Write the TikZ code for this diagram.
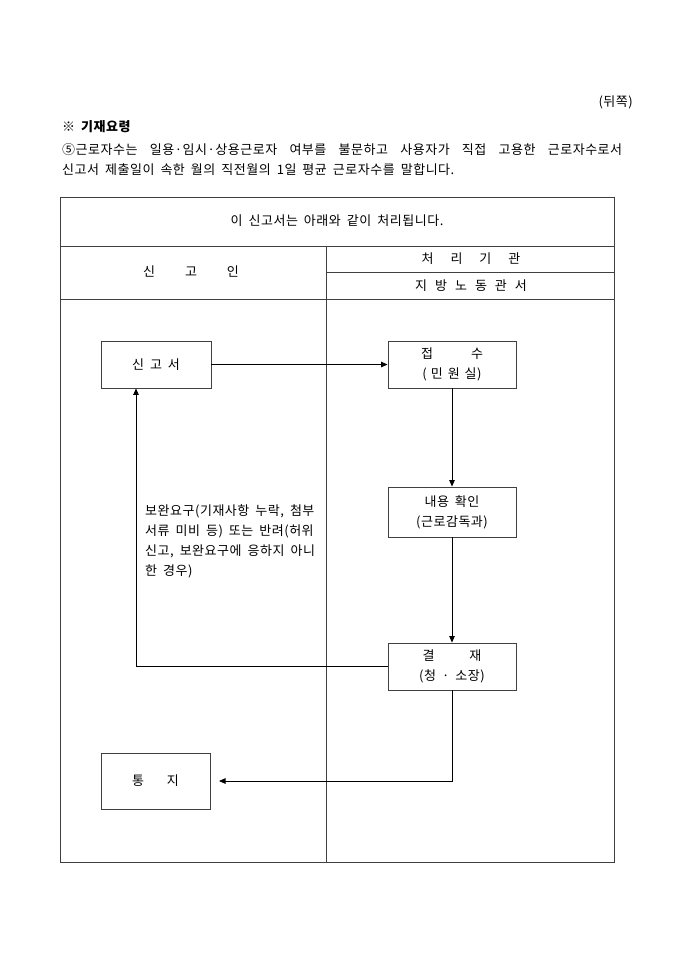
\documentclass[tikz,border=0pt]{standalone}
\usepackage{fontspec}
\setmainfont[LetterSpace=4]{Noto Sans CJK KR}
\usetikzlibrary{arrows.meta}
\definecolor{ln}{HTML}{404040}
\newcommand{\kfont}{\fontsize{13}{20}\selectfont\setlength{\spaceskip}{6pt plus 8pt}}
\newcommand{\lfont}{\fontsize{13}{20.3}\selectfont\setlength{\spaceskip}{6pt}}
\tikzset{
  box/.style={draw=ln, line width=0.9pt, font=\kfont, align=center, inner sep=0pt},
  frame/.style={draw=ln, line width=0.9pt},
  conn/.style={draw=black, line width=0.8pt},
  arr/.style={conn, -{Triangle[length=6.5pt,width=5.5pt]}},
  txt/.style={font=\kfont, inner sep=0pt},
}
\begin{document}
\begin{tikzpicture}[x=1pt,y=-1pt]
\useasboundingbox (0,0) rectangle (680,962);
% top texts
\node[txt, anchor=east] (back) at (633,102) {(뒤쪽)};
\node[txt, anchor=west, font=\kfont\bfseries] (head) at (62,127) {※ 기재요령};
\node[txt, anchor=west] (p1) at (62,150) {\makebox[560pt][s]{⑤근로자수는 일용·임시·상용근로자 여부를 불문하고 사용자가 직접 고용한 근로자수로서}};
\node[txt, anchor=west] (p2) at (62,170) {신고서 제출일이 속한 월의 직전월의 1일 평균 근로자수를 말합니다.};
% table frame
\draw[frame] (60,197) rectangle (614,862);
\draw[frame] (60,246) -- (614,246);
\draw[frame] (60,299) -- (614,299);
\draw[frame] (326,246) -- (326,862);
\draw[frame] (326,272) -- (614,272);
\node[txt] (title) at (337,221) {이 신고서는 아래와 같이 처리됩니다.};
\node[txt] (apl) at (191,272) {신\hspace{30pt}고\hspace{30pt}인};
\node[txt] (org) at (471,259) {처\hspace{17pt}리\hspace{17pt}기\hspace{17pt}관};
\node[txt] (off) at (471,286) {지\hspace{8pt}방\hspace{8pt}노\hspace{8pt}동\hspace{8pt}관\hspace{8pt}서};
% boxes
\node[box, minimum width=110pt, minimum height=47pt] (sin) at (156,364.5) {신\hspace{6pt}고\hspace{6pt}서};
\node[box, minimum width=128pt, minimum height=47pt] (jeop) at (452,364.5) {접\hspace{38pt}수\\(\hspace{4pt}민\hspace{5pt}원\hspace{5pt}실)};
\node[box, minimum width=128pt, minimum height=50pt] (nae) at (452,512) {내용 확인\\(근로감독과)};
\node[box, minimum width=128pt, minimum height=47pt] (gyul) at (452,666.5) {결\hspace{35pt}재\\(청 · 소장)};
\node[box, minimum width=109pt, minimum height=56pt] (tong) at (155.5,781) {통\hspace{23pt}지};
% label
\node[txt, anchor=north west, align=left, font=\lfont] (lbl) at (145,504)
  {보완요구(기재사항 누락, 첨부\\서류 미비 등) 또는 반려(허위\\신고, 보완요구에 응하지 아니\\한 경우)};
% connectors
\coordinate (c1) at (136,666.5);
\coordinate (c2) at (219,781);
\draw[arr] (sin.east) -- (jeop.west);
\draw[arr] (jeop.south) -- (nae.north);
\draw[arr] (nae.south) -- (gyul.north);
\draw[arr] (gyul.west) -- (c1) -- (c1 |- sin.south);
\draw[arr] (gyul.south) |- (c2);
\end{tikzpicture}
\end{document}
